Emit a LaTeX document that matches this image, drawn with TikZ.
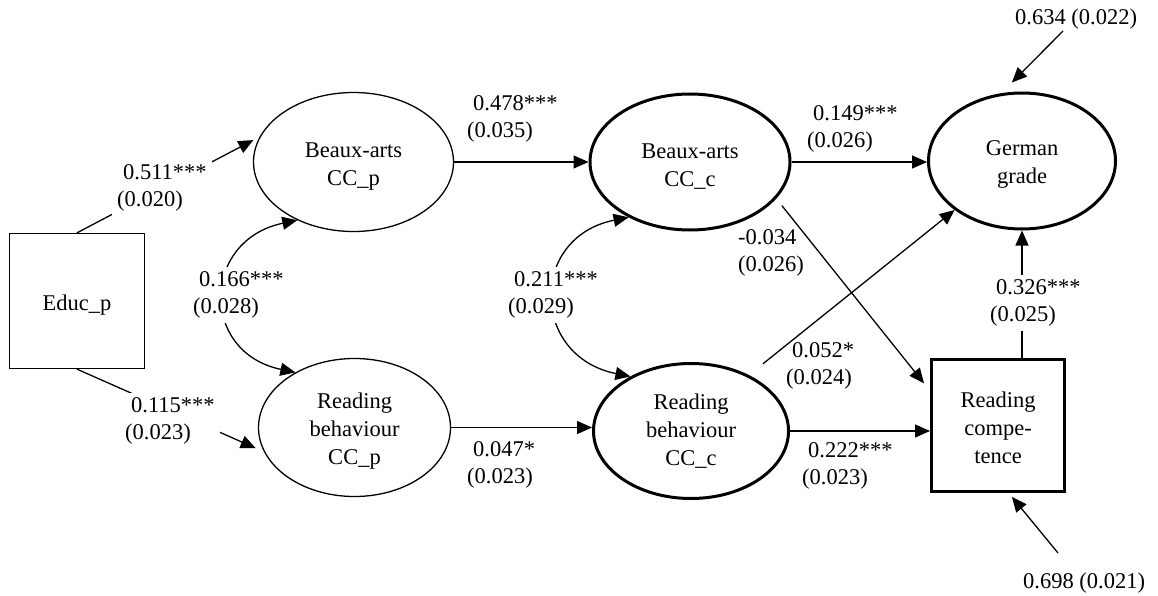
\documentclass[tikz,border=0pt]{standalone}
\usepackage{fontspec}
\setmainfont{Liberation Serif}
\usetikzlibrary{shapes.geometric,arrows.meta,calc}
\begin{document}
\begin{tikzpicture}[x=1pt,y=-1pt,
  txt/.style={font=\fontsize{22.5}{28}\selectfont, align=center, inner sep=0pt},
  thinell/.style={txt, ellipse, draw, line width=1.3pt},
  thickell/.style={txt, ellipse, draw, line width=3pt},
  lbl/.style={font=\fontsize{22.5}{27}\selectfont, align=left, inner sep=5pt, anchor=west},
  blank/.style={fill=white},
  resid/.style={font=\fontsize{22.5}{27}\selectfont, inner sep=0pt, anchor=base west},
  conn/.style={line width=1.3pt, -{Triangle[length=15pt,width=13pt]}},
  cov/.style={line width=1.3pt, {Triangle[length=15pt,width=13pt]}-{Triangle[length=15pt,width=13pt]}}
]
\useasboundingbox (0,0) rectangle (1158,596);
% nodes
\node[txt, draw, line width=1.3pt, minimum width=135pt, minimum height=135pt] (educ) at (77,301) {\rule{0pt}{23pt}Educ\_p};
\node[thinell, minimum width=200pt, minimum height=139pt] (bp) at (353.5,162) {\rule{0pt}{23pt}Beaux-arts\\CC\_p};
\node[thinell, minimum width=192pt, minimum height=138pt] (rp) at (354.5,427.5) {\rule{0pt}{22pt}Reading\\behaviour\\CC\_p};
\node[thickell, minimum width=200pt, minimum height=136pt] (bc) at (690,162) {\rule{0pt}{23pt}Beaux-arts\\CC\_c};
\node[thickell, minimum width=195pt, minimum height=135pt] (rcc) at (691,431) {Reading\\behaviour\\CC\_c};
\node[thickell, minimum width=187pt, minimum height=136pt] (gg) at (1022,161) {\rule{0pt}{21pt}German\\grade};
\node[txt, draw, line width=3pt, minimum width=133pt, minimum height=132pt] (rc) at (998,425.5) {\rule{0pt}{20pt}Reading\\compe-\\tence};
\coordinate (e1) at (1063,31);
\coordinate (e2) at (1058,553);
% connectors
\draw[conn, shorten >=7pt] (educ.north) -- (bp.165);
\draw[conn, shorten >=9pt] (educ.south) -- (rp.195);
\draw[cov] (bp.226) .. controls +(-96,20) and +(-96,-20) .. (rp.137);
\draw[cov] (bc.222) .. controls +(-100,20) and +(-100,-20) .. (rcc.138);
\draw[conn] (bp.east) -- (bp.east -| bc.west);
\draw[conn] (rp.east) -- (rp.east -| rcc.west);
\draw[conn] (bc.east) -- (bc.east -| gg.west);
\draw[conn] (rcc.east) -- (rcc.east -| rc.west);
\draw[conn, shorten <=9pt, shorten >=9.6pt] (bc.337) -- (rc.153);
\draw[conn, shorten <=18pt] (rcc.44) -- (gg.216);
\draw[conn] (gg.south |- rc.north) -- (gg.south);
\draw[conn, shorten >=15pt] (e1) -- (gg.107);
\draw[conn, shorten >=5pt] (e2) -- (rc.279);
% labels
\node[lbl, blank] (l511) at (112,188) {\hspace*{6pt}0.511***\\(0.020)};
\node[lbl, blank] (l115) at (120,421) {\hspace*{6pt}0.115***\\(0.023)};
\node[lbl, blank] (l166) at (188,295) {\hspace*{6pt}0.166***\\(0.028)};
\node[lbl] (l478) at (462,119) {\hspace*{6pt}0.478***\\(0.035)};
\node[lbl] (l047) at (462,465) {\hspace*{6pt}0.047*\\(0.023)};
\node[lbl, blank] (l211) at (503,295) {\hspace*{6pt}0.211***\\(0.029)};
\node[lbl] (l149) at (802,129) {\hspace*{6pt}0.149***\\(0.026)};
\node[lbl] (l034) at (733,253) {-0.034\\(0.026)};
\node[lbl] (l052) at (781,366) {\hspace*{6pt}0.052*\\(0.024)};
\node[lbl] (l222) at (797,466) {\hspace*{6pt}0.222***\\(0.023)};
\node[lbl, blank] (l326) at (985,303) {\hspace*{6pt}0.326***\\(0.025)};
\node[resid] (l634) at (1015,25) {0.634 (0.022)};
\node[resid] (l698) at (1023,588) {0.698 (0.021)};
\end{tikzpicture}
\end{document}
